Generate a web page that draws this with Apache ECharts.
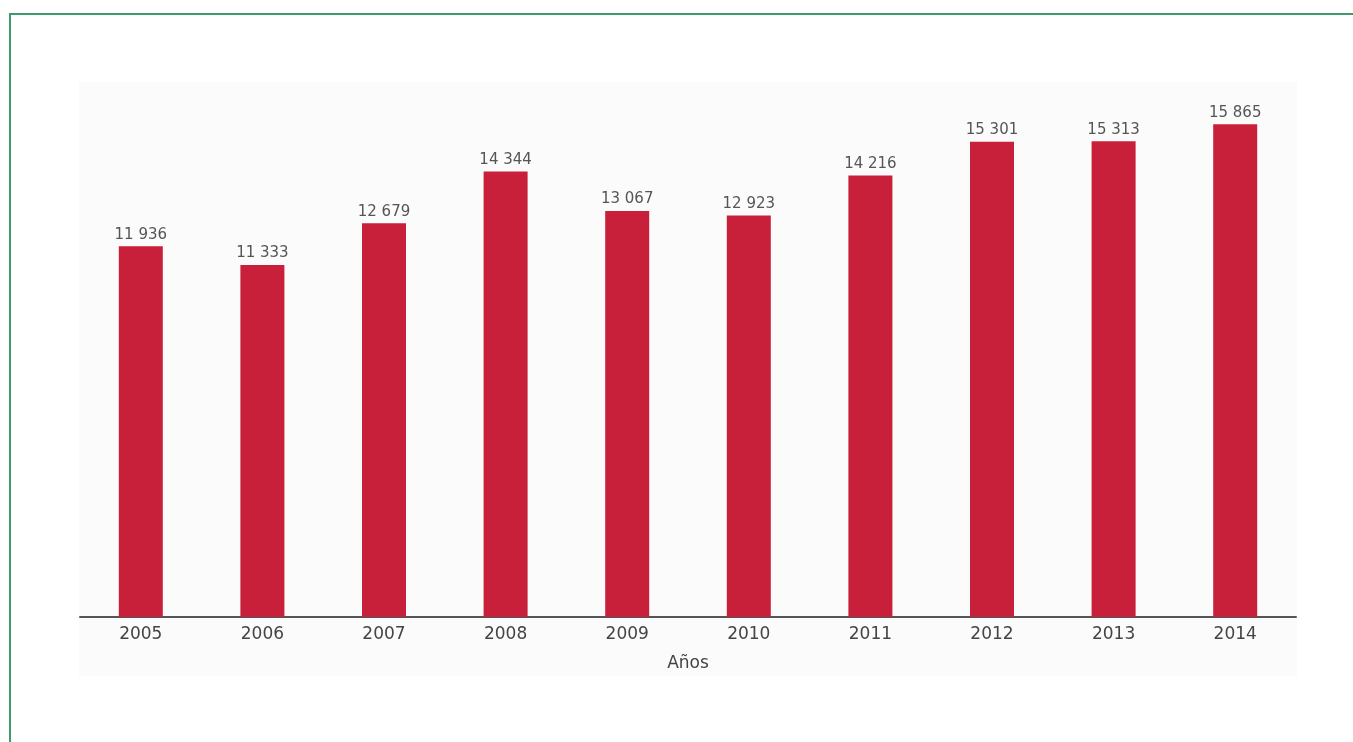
<!DOCTYPE html>
<html>
<head>
<meta charset="utf-8">
<script src="https://cdn.jsdelivr.net/npm/echarts@6/dist/echarts.min.js"></script>
<style>
  html, body { margin: 0; padding: 0; background: #ffffff; }
  #frame { position: absolute; left: 9px; top: 13px; width: 1400px; height: 800px;
           border-left: 2px solid #3f9a6c; border-top: 2px solid #3f9a6c; box-sizing: border-box; }
  #chart { position: absolute; left: 0; top: 0; width: 1353px; height: 742px; }
</style>
</head>
<body>
<div id="frame"></div>
<div id="chart"></div>
<script>
const years = ['2005', '2006', '2007', '2008', '2009', '2010', '2011', '2012', '2013', '2014'];
const values = [11936, 11333, 12679, 14344, 13067, 12923, 14216, 15301, 15313, 15865];
const xAxisTitle = 'Años';

// thousands grouped with a space, e.g. 11 936
function fmt(v) {
  return String(v).replace(/\B(?=(\d{3})+(?!\d))/g, ' ');
}

const chart = echarts.init(document.getElementById('chart'));
chart.setOption({
  animation: false,
  backgroundColor: 'transparent',
  graphic: [{
    type: 'rect',
    z: -10,
    shape: { x: 79, y: 82, width: 1218, height: 594 },
    style: { fill: '#fbfbfb' }
  }],
  grid: { left: 80, right: 57, top: 120, bottom: 125 },
  xAxis: {
    type: 'category',
    data: years,
    name: xAxisTitle,
    nameLocation: 'middle',
    nameGap: 38,
    nameTextStyle: { fontFamily: 'DejaVu Sans', fontSize: 17, color: '#444' },
    axisLine: { lineStyle: { color: '#555', width: 2 } },
    axisTick: { show: false },
    axisLabel: { fontFamily: 'DejaVu Sans', fontSize: 17, color: '#444', margin: 9 }
  },
  yAxis: {
    type: 'value',
    min: 0,
    max: 16000,
    show: false,
    splitLine: { show: false }
  },
  series: [{
    type: 'bar',
    data: values,
    barWidth: 44,
    itemStyle: { color: '#c81f3b' },
    label: {
      show: true,
      position: 'top',
      distance: 4,
      fontFamily: 'DejaVu Sans',
      fontSize: 15,
      color: '#555',
      formatter: p => fmt(p.value)
    }
  }]
});
</script>
</body>
</html>
